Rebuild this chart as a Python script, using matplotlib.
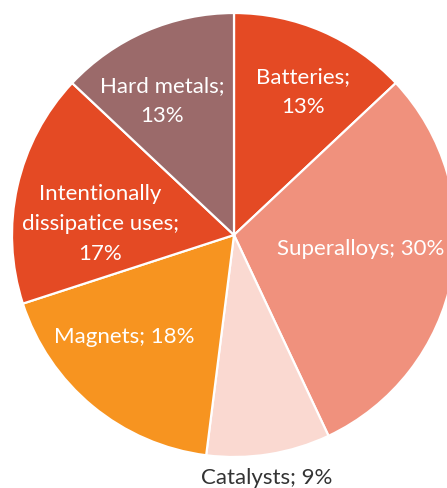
import matplotlib.pyplot as plt

# Uses of the metal, share of total demand (%)
categories = ["Batteries", "Superalloys", "Catalysts", "Magnets",
              "Intentionally\ndissipatice uses", "Hard metals"]
shares = [13, 30, 9, 18, 17, 13]
colors = ["#E44A24", "#F0917D", "#FAD9D1", "#F79420", "#E44A24", "#9B6A6A"]

# label text placement: (x, y) in pixels from top-left, format, text colour
label_pos = [(303, 92), (361, 249), (267, 478), (124, 337), (100, 224), (162, 101)]
label_fmt = ["{};\n{}%", "{}; {}%", "{}; {}%", "{}; {}%", "{};\n{}%", "{};\n{}%"]
label_col = ["white", "white", "#333333", "white", "white", "white"]

W, H = 447, 488
fig = plt.figure(figsize=(W / 100, H / 100), dpi=100)
ax = fig.add_axes([0, 0, 1, 1])

cx, cy, R = 234, H - 235, 222
ax.pie(shares, colors=colors, startangle=90, counterclock=False,
       center=(cx, cy), radius=R, frame=True,
       wedgeprops=dict(edgecolor="white", linewidth=1.6))

for cat, val, (px, py), fmt, col in zip(categories, shares, label_pos, label_fmt, label_col):
    ax.text(px, H - py, fmt.format(cat, val), ha="center", va="center",
            color=col, fontsize=16, family="Lato", linespacing=1.6,
            multialignment="center")

ax.set_xlim(0, W)
ax.set_ylim(0, H)
ax.set_aspect("equal")
ax.axis("off")

fig.savefig("out.png", dpi=100, facecolor="white")
